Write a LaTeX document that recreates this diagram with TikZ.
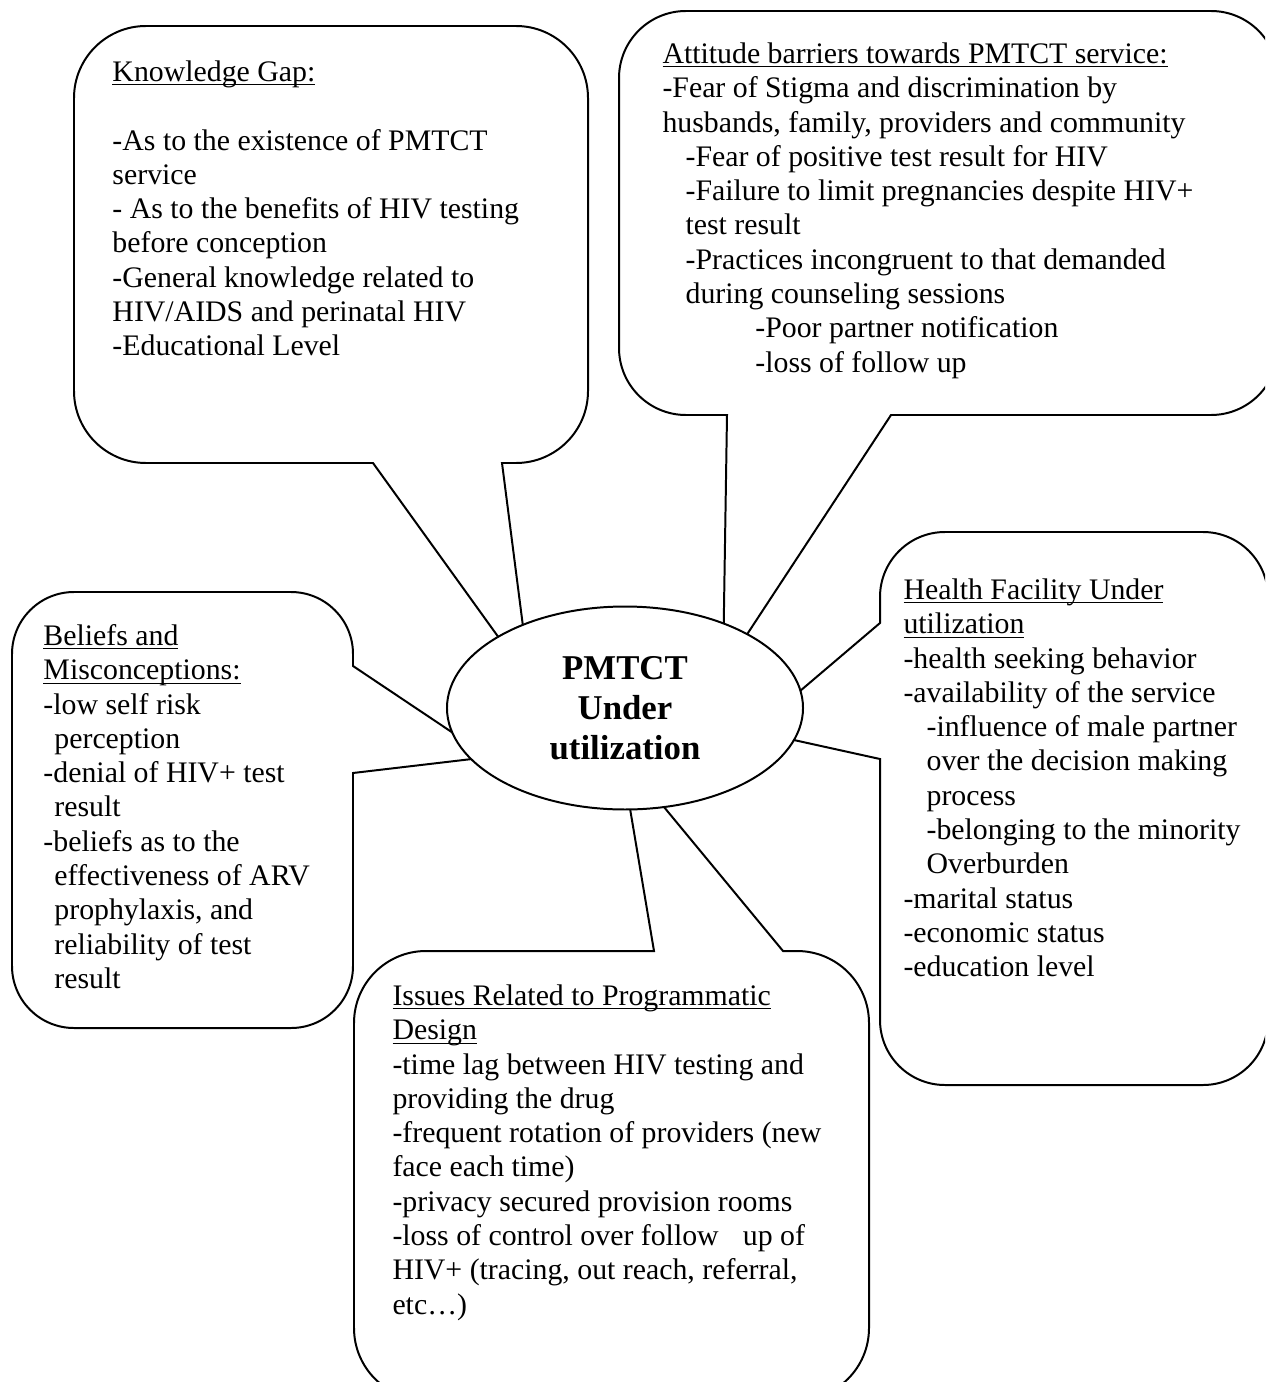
\documentclass[tikz,border=0pt]{standalone}
\usepackage{fontspec}
\setmainfont{Liberation Serif}
\usepackage{tikz}
\usetikzlibrary{shapes.geometric}
\newcommand{\hd}[1]{\underline{\smash{#1}}}

\begin{document}
\begin{tikzpicture}[x=0.4025pt,y=-0.4025pt,
    callout/.style={draw,line width=0.8pt,fill=white},
    body/.style={anchor=north west,align=left,inner sep=0pt,font=\fontsize{12}{13.8}\selectfont},
    core/.style={ellipse,draw,line width=0.8pt,fill=white,inner sep=0pt,
      minimum width=143.3pt,minimum height=81.7pt,align=center,
      font=\bfseries\fontsize{14}{16.1}\selectfont}]
    \useasboundingbox (0,0) rectangle (1265,1382);
    \clip (0,0) rectangle (1265,1382);
    \fill[white] (0,0) rectangle (1265,1382);

    \coordinate (kgtip) at (530,681);
    \coordinate (atttip) at (723,671);
    \coordinate (beltip) at (489,757);
    \coordinate (hfutip) at (753,731);
    \coordinate (irdtip) at (621,755);

    % callouts round the core
    \draw[callout] (146,26) -- (516,26) arc[start angle=270,end angle=360,radius=72]
        -- (588,391) arc[start angle=0,end angle=90,radius=72]
        -- (502,463) -- (kgtip) -- (373,463)
        -- (146,463) arc[start angle=90,end angle=180,radius=72]
        -- (74,98) arc[start angle=180,end angle=270,radius=72] -- cycle;
    \draw[callout] (686,11) -- (1211,11) arc[start angle=270,end angle=360,radius=67]
        -- (1278,348) arc[start angle=0,end angle=90,radius=67]
        -- (891,415) -- (atttip) -- (727,415)
        -- (686,415) arc[start angle=90,end angle=180,radius=67]
        -- (619,78) arc[start angle=180,end angle=270,radius=67] -- cycle;
    \draw[callout] (74,592) -- (291,592) arc[start angle=270,end angle=360,radius=62]
        -- (353,666) -- (beltip) -- (353,773)
        -- (353,966) arc[start angle=0,end angle=90,radius=62]
        -- (74,1028) arc[start angle=90,end angle=180,radius=62]
        -- (12,654) arc[start angle=180,end angle=270,radius=62] -- cycle;
    \draw[callout] (945,532) -- (1203,532) arc[start angle=270,end angle=360,radius=65]
        -- (1268,1020) arc[start angle=0,end angle=90,radius=65]
        -- (945,1085) arc[start angle=90,end angle=180,radius=65]
        -- (880,759) -- (hfutip) -- (880,623)
        -- (880,597) arc[start angle=180,end angle=270,radius=65] -- cycle;
    \draw[callout] (426,951) -- (654,951) -- (irdtip) -- (783,951)
        -- (797,951) arc[start angle=270,end angle=360,radius=72]
        -- (869,1328) arc[start angle=0,end angle=90,radius=72]
        -- (426,1400) arc[start angle=90,end angle=180,radius=72]
        -- (354,1023) arc[start angle=180,end angle=270,radius=72] -- cycle;

    \node[body] (kg) at (112,57) {\strut\hd{Knowledge Gap:}\\[13.8pt]
        -As to the existence of PMTCT\\
        service\\
        - As to the benefits of HIV testing\\
        before conception\\
        -General knowledge related to\\
        HIV/AIDS and perinatal HIV\\
        -Educational Level};
    \node[body] (att) at (662,39) {\strut\hd{Attitude barriers towards PMTCT service:}\\
        -Fear of Stigma and discrimination by\\
        husbands, family, providers and community\\
        \hspace*{9.3pt}-Fear of positive test result for HIV\\
        \hspace*{9.3pt}-Failure to limit pregnancies despite HIV+\\
        \hspace*{9.3pt}test result\\
        \hspace*{9.3pt}-Practices incongruent to that demanded\\
        \hspace*{9.3pt}during counseling sessions\\
        \hspace*{37.4pt}-Poor partner notification\\
        \hspace*{37.4pt}-loss of follow up};
    \node[body] (bel) at (43,621) {\strut\hd{Beliefs and}\\
        \hd{Misconceptions:}\\
        -low self risk\\
        \hspace*{4.4pt}perception\\
        -denial of HIV+ test\\
        \hspace*{4.4pt}result\\
        -beliefs as to the\\
        \hspace*{4.4pt}effectiveness of ARV\\
        \hspace*{4.4pt}prophylaxis, and\\
        \hspace*{4.4pt}reliability of test\\
        \hspace*{4.4pt}result};
    \node[body] (hfu) at (903,575) {\strut\hd{Health Facility Under}\\
        \hd{utilization}\\
        -health seeking behavior\\
        -availability of the service\\
        \hspace*{9.3pt}-influence of male partner\\
        \hspace*{9.3pt}over the decision making\\
        \hspace*{9.3pt}process\\
        \hspace*{9.3pt}-belonging to the minority\\
        \hspace*{9.3pt}Overburden\\
        -marital status\\
        -economic status\\
        -education level};
    \node[body] (ird) at (392,981) {\strut\hd{Issues Related to Programmatic}\\
        \hd{Design}\\
        -time lag between HIV testing and\\
        providing the drug\\
        -frequent rotation of providers (new\\
        face each time)\\
        -privacy secured provision rooms\\
        -loss of control over follow\hspace{9.7pt}up of\\
        HIV+ (tracing, out reach, referral,\\
        etc…)};

    \node[core] (pmtct) at (625,708) {PMTCT\\Under\\utilization};
\end{tikzpicture}
\end{document}
